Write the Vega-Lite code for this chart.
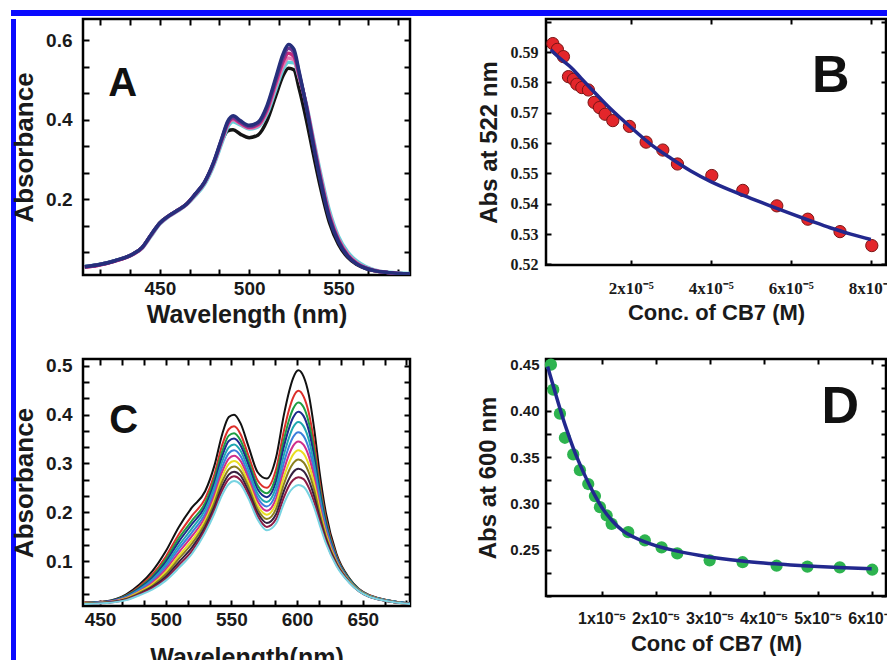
{
"$schema": "https://vega.github.io/schema/vega-lite/v6.json",
"padding": {"left": 10, "top": 10, "right": 0, "bottom": 0},
"background": "white",
"config": {
  "view": {"stroke": "#000", "strokeWidth": 2.5},
  "axis": {"domain": false, "grid": false, "labelFont": "Liberation Sans", "labelFontWeight": "bold", "labelColor": "#1a1a1a", "titleFont": "Liberation Sans", "titleFontWeight": "bold", "titleColor": "#1a1a1a", "tickColor": "#000", "tickWidth": 2}
},
"datasets": {
"a": [
{"s":"black","w":408,"a":0.030},{"s":"black","w":415,"a":0.034},{"s":"black","w":425,"a":0.045},{"s":"black","w":435,"a":0.062},{"s":"black","w":440,"a":0.078},{"s":"black","w":445,"a":0.109},{"s":"black","w":450,"a":0.140},{"s":"black","w":455,"a":0.158},{"s":"black","w":460,"a":0.172},{"s":"black","w":465,"a":0.188},{"s":"black","w":470,"a":0.213},{"s":"black","w":475,"a":0.241},{"s":"black","w":480,"a":0.288},{"s":"black","w":485,"a":0.350},{"s":"black","w":488,"a":0.372},{"s":"black","w":491,"a":0.375},{"s":"black","w":495,"a":0.364},{"s":"black","w":500,"a":0.355},{"s":"black","w":505,"a":0.362},{"s":"black","w":510,"a":0.398},{"s":"black","w":515,"a":0.462},{"s":"black","w":519,"a":0.512},{"s":"black","w":522,"a":0.530},{"s":"black","w":525,"a":0.526},{"s":"black","w":528,"a":0.478},{"s":"black","w":532,"a":0.400},{"s":"black","w":536,"a":0.312},{"s":"black","w":540,"a":0.228},{"s":"black","w":545,"a":0.140},{"s":"black","w":550,"a":0.086},{"s":"black","w":555,"a":0.054},{"s":"black","w":560,"a":0.036},{"s":"black","w":565,"a":0.026},{"s":"black","w":570,"a":0.020},{"s":"black","w":578,"a":0.015},{"s":"black","w":590,"a":0.012},
{"s":"cyan","w":408,"a":0.031},{"s":"cyan","w":415,"a":0.035},{"s":"cyan","w":425,"a":0.046},{"s":"cyan","w":435,"a":0.061},{"s":"cyan","w":440,"a":0.076},{"s":"cyan","w":445,"a":0.106},{"s":"cyan","w":450,"a":0.137},{"s":"cyan","w":455,"a":0.156},{"s":"cyan","w":460,"a":0.170},{"s":"cyan","w":465,"a":0.186},{"s":"cyan","w":470,"a":0.209},{"s":"cyan","w":475,"a":0.237},{"s":"cyan","w":480,"a":0.283},{"s":"cyan","w":485,"a":0.345},{"s":"cyan","w":488,"a":0.381},{"s":"cyan","w":491,"a":0.395},{"s":"cyan","w":495,"a":0.387},{"s":"cyan","w":500,"a":0.377},{"s":"cyan","w":505,"a":0.382},{"s":"cyan","w":510,"a":0.415},{"s":"cyan","w":515,"a":0.478},{"s":"cyan","w":519,"a":0.527},{"s":"cyan","w":522,"a":0.545},{"s":"cyan","w":525,"a":0.544},{"s":"cyan","w":528,"a":0.506},{"s":"cyan","w":532,"a":0.440},{"s":"cyan","w":536,"a":0.352},{"s":"cyan","w":540,"a":0.265},{"s":"cyan","w":545,"a":0.170},{"s":"cyan","w":550,"a":0.106},{"s":"cyan","w":555,"a":0.068},{"s":"cyan","w":560,"a":0.045},{"s":"cyan","w":565,"a":0.031},{"s":"cyan","w":570,"a":0.022},{"s":"cyan","w":578,"a":0.016},{"s":"cyan","w":590,"a":0.013},
{"s":"pink","w":408,"a":0.029},{"s":"pink","w":415,"a":0.033},{"s":"pink","w":425,"a":0.044},{"s":"pink","w":435,"a":0.061},{"s":"pink","w":440,"a":0.077},{"s":"pink","w":445,"a":0.108},{"s":"pink","w":450,"a":0.139},{"s":"pink","w":455,"a":0.157},{"s":"pink","w":460,"a":0.171},{"s":"pink","w":465,"a":0.187},{"s":"pink","w":470,"a":0.212},{"s":"pink","w":475,"a":0.241},{"s":"pink","w":480,"a":0.288},{"s":"pink","w":485,"a":0.351},{"s":"pink","w":488,"a":0.387},{"s":"pink","w":491,"a":0.400},{"s":"pink","w":495,"a":0.390},{"s":"pink","w":500,"a":0.379},{"s":"pink","w":505,"a":0.385},{"s":"pink","w":510,"a":0.421},{"s":"pink","w":515,"a":0.487},{"s":"pink","w":519,"a":0.537},{"s":"pink","w":522,"a":0.556},{"s":"pink","w":525,"a":0.551},{"s":"pink","w":528,"a":0.508},{"s":"pink","w":532,"a":0.437},{"s":"pink","w":536,"a":0.346},{"s":"pink","w":540,"a":0.257},{"s":"pink","w":545,"a":0.162},{"s":"pink","w":550,"a":0.100},{"s":"pink","w":555,"a":0.063},{"s":"pink","w":560,"a":0.041},{"s":"pink","w":565,"a":0.028},{"s":"pink","w":570,"a":0.021},{"s":"pink","w":578,"a":0.015},{"s":"pink","w":590,"a":0.012},
{"s":"magenta","w":408,"a":0.029},{"s":"magenta","w":415,"a":0.033},{"s":"magenta","w":425,"a":0.044},{"s":"magenta","w":435,"a":0.061},{"s":"magenta","w":440,"a":0.077},{"s":"magenta","w":445,"a":0.109},{"s":"magenta","w":450,"a":0.139},{"s":"magenta","w":455,"a":0.158},{"s":"magenta","w":460,"a":0.172},{"s":"magenta","w":465,"a":0.188},{"s":"magenta","w":470,"a":0.213},{"s":"magenta","w":475,"a":0.242},{"s":"magenta","w":480,"a":0.290},{"s":"magenta","w":485,"a":0.354},{"s":"magenta","w":488,"a":0.390},{"s":"magenta","w":491,"a":0.403},{"s":"magenta","w":495,"a":0.392},{"s":"magenta","w":500,"a":0.381},{"s":"magenta","w":505,"a":0.388},{"s":"magenta","w":510,"a":0.426},{"s":"magenta","w":515,"a":0.495},{"s":"magenta","w":519,"a":0.547},{"s":"magenta","w":522,"a":0.568},{"s":"magenta","w":525,"a":0.560},{"s":"magenta","w":528,"a":0.512},{"s":"magenta","w":532,"a":0.436},{"s":"magenta","w":536,"a":0.342},{"s":"magenta","w":540,"a":0.252},{"s":"magenta","w":545,"a":0.157},{"s":"magenta","w":550,"a":0.097},{"s":"magenta","w":555,"a":0.060},{"s":"magenta","w":560,"a":0.039},{"s":"magenta","w":565,"a":0.027},{"s":"magenta","w":570,"a":0.020},{"s":"magenta","w":578,"a":0.015},{"s":"magenta","w":590,"a":0.012},
{"s":"purple","w":408,"a":0.030},{"s":"purple","w":415,"a":0.034},{"s":"purple","w":425,"a":0.045},{"s":"purple","w":435,"a":0.062},{"s":"purple","w":440,"a":0.078},{"s":"purple","w":445,"a":0.110},{"s":"purple","w":450,"a":0.140},{"s":"purple","w":455,"a":0.158},{"s":"purple","w":460,"a":0.172},{"s":"purple","w":465,"a":0.188},{"s":"purple","w":470,"a":0.214},{"s":"purple","w":475,"a":0.243},{"s":"purple","w":480,"a":0.291},{"s":"purple","w":485,"a":0.356},{"s":"purple","w":488,"a":0.393},{"s":"purple","w":491,"a":0.406},{"s":"purple","w":495,"a":0.395},{"s":"purple","w":500,"a":0.383},{"s":"purple","w":505,"a":0.391},{"s":"purple","w":510,"a":0.431},{"s":"purple","w":515,"a":0.502},{"s":"purple","w":519,"a":0.557},{"s":"purple","w":522,"a":0.580},{"s":"purple","w":525,"a":0.570},{"s":"purple","w":528,"a":0.516},{"s":"purple","w":532,"a":0.434},{"s":"purple","w":536,"a":0.338},{"s":"purple","w":540,"a":0.248},{"s":"purple","w":545,"a":0.153},{"s":"purple","w":550,"a":0.094},{"s":"purple","w":555,"a":0.058},{"s":"purple","w":560,"a":0.038},{"s":"purple","w":565,"a":0.027},{"s":"purple","w":570,"a":0.020},{"s":"purple","w":578,"a":0.015},{"s":"purple","w":590,"a":0.012},
{"s":"navy","w":408,"a":0.030},{"s":"navy","w":415,"a":0.034},{"s":"navy","w":425,"a":0.045},{"s":"navy","w":435,"a":0.062},{"s":"navy","w":440,"a":0.078},{"s":"navy","w":445,"a":0.110},{"s":"navy","w":450,"a":0.140},{"s":"navy","w":455,"a":0.158},{"s":"navy","w":460,"a":0.172},{"s":"navy","w":465,"a":0.188},{"s":"navy","w":470,"a":0.214},{"s":"navy","w":475,"a":0.243},{"s":"navy","w":480,"a":0.292},{"s":"navy","w":485,"a":0.358},{"s":"navy","w":488,"a":0.396},{"s":"navy","w":491,"a":0.410},{"s":"navy","w":495,"a":0.398},{"s":"navy","w":500,"a":0.386},{"s":"navy","w":505,"a":0.394},{"s":"navy","w":510,"a":0.436},{"s":"navy","w":515,"a":0.508},{"s":"navy","w":519,"a":0.566},{"s":"navy","w":522,"a":0.590},{"s":"navy","w":525,"a":0.578},{"s":"navy","w":528,"a":0.520},{"s":"navy","w":532,"a":0.432},{"s":"navy","w":536,"a":0.334},{"s":"navy","w":540,"a":0.244},{"s":"navy","w":545,"a":0.150},{"s":"navy","w":550,"a":0.092},{"s":"navy","w":555,"a":0.057},{"s":"navy","w":560,"a":0.037},{"s":"navy","w":565,"a":0.026},{"s":"navy","w":570,"a":0.020},{"s":"navy","w":578,"a":0.015},{"s":"navy","w":590,"a":0.012}
],
"c": [
{"t":"black","w":438,"a":0.015},{"t":"black","w":455,"a":0.018},{"t":"black","w":470,"a":0.032},{"t":"black","w":480,"a":0.052},{"t":"black","w":490,"a":0.080},{"t":"black","w":500,"a":0.120},{"t":"black","w":510,"a":0.170},{"t":"black","w":520,"a":0.210},{"t":"black","w":530,"a":0.243},{"t":"black","w":537,"a":0.295},{"t":"black","w":543,"a":0.360},{"t":"black","w":548,"a":0.395},{"t":"black","w":552,"a":0.400},{"t":"black","w":557,"a":0.382},{"t":"black","w":563,"a":0.335},{"t":"black","w":570,"a":0.282},{"t":"black","w":577,"a":0.269},{"t":"black","w":584,"a":0.312},{"t":"black","w":590,"a":0.400},{"t":"black","w":594,"a":0.448},{"t":"black","w":597,"a":0.475},{"t":"black","w":601,"a":0.491},{"t":"black","w":605,"a":0.478},{"t":"black","w":609,"a":0.440},{"t":"black","w":613,"a":0.372},{"t":"black","w":617,"a":0.285},{"t":"black","w":622,"a":0.198},{"t":"black","w":630,"a":0.115},{"t":"black","w":640,"a":0.064},{"t":"black","w":655,"a":0.030},{"t":"black","w":686,"a":0.013},
{"t":"red","w":438,"a":0.015},{"t":"red","w":455,"a":0.017},{"t":"red","w":470,"a":0.030},{"t":"red","w":480,"a":0.048},{"t":"red","w":490,"a":0.073},{"t":"red","w":500,"a":0.109},{"t":"red","w":510,"a":0.155},{"t":"red","w":520,"a":0.193},{"t":"red","w":530,"a":0.228},{"t":"red","w":537,"a":0.277},{"t":"red","w":543,"a":0.338},{"t":"red","w":548,"a":0.370},{"t":"red","w":552,"a":0.376},{"t":"red","w":557,"a":0.360},{"t":"red","w":563,"a":0.316},{"t":"red","w":570,"a":0.265},{"t":"red","w":577,"a":0.250},{"t":"red","w":584,"a":0.288},{"t":"red","w":590,"a":0.367},{"t":"red","w":594,"a":0.411},{"t":"red","w":597,"a":0.435},{"t":"red","w":601,"a":0.449},{"t":"red","w":605,"a":0.437},{"t":"red","w":609,"a":0.403},{"t":"red","w":613,"a":0.343},{"t":"red","w":617,"a":0.265},{"t":"red","w":622,"a":0.187},{"t":"red","w":630,"a":0.111},{"t":"red","w":640,"a":0.062},{"t":"red","w":655,"a":0.030},{"t":"red","w":686,"a":0.013},
{"t":"green","w":438,"a":0.014},{"t":"green","w":455,"a":0.017},{"t":"green","w":470,"a":0.029},{"t":"green","w":480,"a":0.046},{"t":"green","w":490,"a":0.069},{"t":"green","w":500,"a":0.103},{"t":"green","w":510,"a":0.147},{"t":"green","w":520,"a":0.183},{"t":"green","w":530,"a":0.219},{"t":"green","w":537,"a":0.268},{"t":"green","w":543,"a":0.325},{"t":"green","w":548,"a":0.357},{"t":"green","w":552,"a":0.362},{"t":"green","w":557,"a":0.347},{"t":"green","w":563,"a":0.305},{"t":"green","w":570,"a":0.255},{"t":"green","w":577,"a":0.239},{"t":"green","w":584,"a":0.274},{"t":"green","w":590,"a":0.349},{"t":"green","w":594,"a":0.390},{"t":"green","w":597,"a":0.412},{"t":"green","w":601,"a":0.425},{"t":"green","w":605,"a":0.415},{"t":"green","w":609,"a":0.383},{"t":"green","w":613,"a":0.327},{"t":"green","w":617,"a":0.255},{"t":"green","w":622,"a":0.181},{"t":"green","w":630,"a":0.108},{"t":"green","w":640,"a":0.062},{"t":"green","w":655,"a":0.029},{"t":"green","w":686,"a":0.013},
{"t":"navy","w":438,"a":0.014},{"t":"navy","w":455,"a":0.017},{"t":"navy","w":470,"a":0.028},{"t":"navy","w":480,"a":0.044},{"t":"navy","w":490,"a":0.066},{"t":"navy","w":500,"a":0.098},{"t":"navy","w":510,"a":0.140},{"t":"navy","w":520,"a":0.176},{"t":"navy","w":530,"a":0.212},{"t":"navy","w":537,"a":0.260},{"t":"navy","w":543,"a":0.315},{"t":"navy","w":548,"a":0.346},{"t":"navy","w":552,"a":0.351},{"t":"navy","w":557,"a":0.337},{"t":"navy","w":563,"a":0.297},{"t":"navy","w":570,"a":0.247},{"t":"navy","w":577,"a":0.231},{"t":"navy","w":584,"a":0.263},{"t":"navy","w":590,"a":0.335},{"t":"navy","w":594,"a":0.373},{"t":"navy","w":597,"a":0.394},{"t":"navy","w":601,"a":0.406},{"t":"navy","w":605,"a":0.397},{"t":"navy","w":609,"a":0.367},{"t":"navy","w":613,"a":0.314},{"t":"navy","w":617,"a":0.246},{"t":"navy","w":622,"a":0.176},{"t":"navy","w":630,"a":0.106},{"t":"navy","w":640,"a":0.061},{"t":"navy","w":655,"a":0.029},{"t":"navy","w":686,"a":0.013},
{"t":"teal","w":438,"a":0.014},{"t":"teal","w":455,"a":0.016},{"t":"teal","w":470,"a":0.027},{"t":"teal","w":480,"a":0.042},{"t":"teal","w":490,"a":0.063},{"t":"teal","w":500,"a":0.093},{"t":"teal","w":510,"a":0.132},{"t":"teal","w":520,"a":0.167},{"t":"teal","w":530,"a":0.205},{"t":"teal","w":537,"a":0.251},{"t":"teal","w":543,"a":0.304},{"t":"teal","w":548,"a":0.333},{"t":"teal","w":552,"a":0.339},{"t":"teal","w":557,"a":0.326},{"t":"teal","w":563,"a":0.287},{"t":"teal","w":570,"a":0.238},{"t":"teal","w":577,"a":0.221},{"t":"teal","w":584,"a":0.251},{"t":"teal","w":590,"a":0.318},{"t":"teal","w":594,"a":0.354},{"t":"teal","w":597,"a":0.374},{"t":"teal","w":601,"a":0.385},{"t":"teal","w":605,"a":0.376},{"t":"teal","w":609,"a":0.348},{"t":"teal","w":613,"a":0.299},{"t":"teal","w":617,"a":0.236},{"t":"teal","w":622,"a":0.170},{"t":"teal","w":630,"a":0.104},{"t":"teal","w":640,"a":0.060},{"t":"teal","w":655,"a":0.029},{"t":"teal","w":686,"a":0.013},
{"t":"blue","w":438,"a":0.013},{"t":"blue","w":455,"a":0.016},{"t":"blue","w":470,"a":0.026},{"t":"blue","w":480,"a":0.040},{"t":"blue","w":490,"a":0.060},{"t":"blue","w":500,"a":0.088},{"t":"blue","w":510,"a":0.125},{"t":"blue","w":520,"a":0.159},{"t":"blue","w":530,"a":0.197},{"t":"blue","w":537,"a":0.242},{"t":"blue","w":543,"a":0.293},{"t":"blue","w":548,"a":0.321},{"t":"blue","w":552,"a":0.327},{"t":"blue","w":557,"a":0.315},{"t":"blue","w":563,"a":0.277},{"t":"blue","w":570,"a":0.230},{"t":"blue","w":577,"a":0.212},{"t":"blue","w":584,"a":0.239},{"t":"blue","w":590,"a":0.302},{"t":"blue","w":594,"a":0.336},{"t":"blue","w":597,"a":0.354},{"t":"blue","w":601,"a":0.364},{"t":"blue","w":605,"a":0.356},{"t":"blue","w":609,"a":0.330},{"t":"blue","w":613,"a":0.285},{"t":"blue","w":617,"a":0.226},{"t":"blue","w":622,"a":0.165},{"t":"blue","w":630,"a":0.102},{"t":"blue","w":640,"a":0.059},{"t":"blue","w":655,"a":0.028},{"t":"blue","w":686,"a":0.013},
{"t":"magenta","w":438,"a":0.013},{"t":"magenta","w":455,"a":0.016},{"t":"magenta","w":470,"a":0.025},{"t":"magenta","w":480,"a":0.038},{"t":"magenta","w":490,"a":0.056},{"t":"magenta","w":500,"a":0.083},{"t":"magenta","w":510,"a":0.118},{"t":"magenta","w":520,"a":0.151},{"t":"magenta","w":530,"a":0.190},{"t":"magenta","w":537,"a":0.234},{"t":"magenta","w":543,"a":0.283},{"t":"magenta","w":548,"a":0.310},{"t":"magenta","w":552,"a":0.316},{"t":"magenta","w":557,"a":0.305},{"t":"magenta","w":563,"a":0.269},{"t":"magenta","w":570,"a":0.222},{"t":"magenta","w":577,"a":0.203},{"t":"magenta","w":584,"a":0.228},{"t":"magenta","w":590,"a":0.287},{"t":"magenta","w":594,"a":0.319},{"t":"magenta","w":597,"a":0.336},{"t":"magenta","w":601,"a":0.345},{"t":"magenta","w":605,"a":0.338},{"t":"magenta","w":609,"a":0.314},{"t":"magenta","w":613,"a":0.272},{"t":"magenta","w":617,"a":0.217},{"t":"magenta","w":622,"a":0.160},{"t":"magenta","w":630,"a":0.100},{"t":"magenta","w":640,"a":0.058},{"t":"magenta","w":655,"a":0.028},{"t":"magenta","w":686,"a":0.012},
{"t":"yellow","w":438,"a":0.013},{"t":"yellow","w":455,"a":0.015},{"t":"yellow","w":470,"a":0.024},{"t":"yellow","w":480,"a":0.037},{"t":"yellow","w":490,"a":0.053},{"t":"yellow","w":500,"a":0.078},{"t":"yellow","w":510,"a":0.111},{"t":"yellow","w":520,"a":0.143},{"t":"yellow","w":530,"a":0.183},{"t":"yellow","w":537,"a":0.226},{"t":"yellow","w":543,"a":0.273},{"t":"yellow","w":548,"a":0.299},{"t":"yellow","w":552,"a":0.305},{"t":"yellow","w":557,"a":0.295},{"t":"yellow","w":563,"a":0.260},{"t":"yellow","w":570,"a":0.214},{"t":"yellow","w":577,"a":0.195},{"t":"yellow","w":584,"a":0.218},{"t":"yellow","w":590,"a":0.273},{"t":"yellow","w":594,"a":0.302},{"t":"yellow","w":597,"a":0.318},{"t":"yellow","w":601,"a":0.327},{"t":"yellow","w":605,"a":0.320},{"t":"yellow","w":609,"a":0.297},{"t":"yellow","w":613,"a":0.259},{"t":"yellow","w":617,"a":0.209},{"t":"yellow","w":622,"a":0.155},{"t":"yellow","w":630,"a":0.098},{"t":"yellow","w":640,"a":0.058},{"t":"yellow","w":655,"a":0.028},{"t":"yellow","w":686,"a":0.012},
{"t":"olive","w":438,"a":0.013},{"t":"olive","w":455,"a":0.015},{"t":"olive","w":470,"a":0.023},{"t":"olive","w":480,"a":0.035},{"t":"olive","w":490,"a":0.050},{"t":"olive","w":500,"a":0.073},{"t":"olive","w":510,"a":0.105},{"t":"olive","w":520,"a":0.136},{"t":"olive","w":530,"a":0.177},{"t":"olive","w":537,"a":0.219},{"t":"olive","w":543,"a":0.263},{"t":"olive","w":548,"a":0.288},{"t":"olive","w":552,"a":0.294},{"t":"olive","w":557,"a":0.285},{"t":"olive","w":563,"a":0.252},{"t":"olive","w":570,"a":0.206},{"t":"olive","w":577,"a":0.186},{"t":"olive","w":584,"a":0.207},{"t":"olive","w":590,"a":0.258},{"t":"olive","w":594,"a":0.286},{"t":"olive","w":597,"a":0.300},{"t":"olive","w":601,"a":0.308},{"t":"olive","w":605,"a":0.302},{"t":"olive","w":609,"a":0.281},{"t":"olive","w":613,"a":0.246},{"t":"olive","w":617,"a":0.200},{"t":"olive","w":622,"a":0.150},{"t":"olive","w":630,"a":0.096},{"t":"olive","w":640,"a":0.057},{"t":"olive","w":655,"a":0.028},{"t":"olive","w":686,"a":0.012},
{"t":"dark","w":438,"a":0.012},{"t":"dark","w":455,"a":0.015},{"t":"dark","w":470,"a":0.022},{"t":"dark","w":480,"a":0.033},{"t":"dark","w":490,"a":0.047},{"t":"dark","w":500,"a":0.068},{"t":"dark","w":510,"a":0.098},{"t":"dark","w":520,"a":0.128},{"t":"dark","w":530,"a":0.170},{"t":"dark","w":537,"a":0.211},{"t":"dark","w":543,"a":0.253},{"t":"dark","w":548,"a":0.277},{"t":"dark","w":552,"a":0.283},{"t":"dark","w":557,"a":0.275},{"t":"dark","w":563,"a":0.243},{"t":"dark","w":570,"a":0.199},{"t":"dark","w":577,"a":0.178},{"t":"dark","w":584,"a":0.196},{"t":"dark","w":590,"a":0.244},{"t":"dark","w":594,"a":0.269},{"t":"dark","w":597,"a":0.282},{"t":"dark","w":601,"a":0.289},{"t":"dark","w":605,"a":0.284},{"t":"dark","w":609,"a":0.265},{"t":"dark","w":613,"a":0.233},{"t":"dark","w":617,"a":0.191},{"t":"dark","w":622,"a":0.145},{"t":"dark","w":630,"a":0.094},{"t":"dark","w":640,"a":0.056},{"t":"dark","w":655,"a":0.027},{"t":"dark","w":686,"a":0.012},
{"t":"maroon","w":438,"a":0.012},{"t":"maroon","w":455,"a":0.014},{"t":"maroon","w":470,"a":0.021},{"t":"maroon","w":480,"a":0.032},{"t":"maroon","w":490,"a":0.045},{"t":"maroon","w":500,"a":0.064},{"t":"maroon","w":510,"a":0.092},{"t":"maroon","w":520,"a":0.121},{"t":"maroon","w":530,"a":0.164},{"t":"maroon","w":537,"a":0.204},{"t":"maroon","w":543,"a":0.245},{"t":"maroon","w":548,"a":0.268},{"t":"maroon","w":552,"a":0.274},{"t":"maroon","w":557,"a":0.266},{"t":"maroon","w":563,"a":0.236},{"t":"maroon","w":570,"a":0.192},{"t":"maroon","w":577,"a":0.170},{"t":"maroon","w":584,"a":0.186},{"t":"maroon","w":590,"a":0.231},{"t":"maroon","w":594,"a":0.255},{"t":"maroon","w":597,"a":0.266},{"t":"maroon","w":601,"a":0.272},{"t":"maroon","w":605,"a":0.268},{"t":"maroon","w":609,"a":0.250},{"t":"maroon","w":613,"a":0.221},{"t":"maroon","w":617,"a":0.184},{"t":"maroon","w":622,"a":0.140},{"t":"maroon","w":630,"a":0.092},{"t":"maroon","w":640,"a":0.056},{"t":"maroon","w":655,"a":0.027},{"t":"maroon","w":686,"a":0.012},
{"t":"cyan","w":438,"a":0.012},{"t":"cyan","w":455,"a":0.014},{"t":"cyan","w":470,"a":0.020},{"t":"cyan","w":480,"a":0.030},{"t":"cyan","w":490,"a":0.042},{"t":"cyan","w":500,"a":0.060},{"t":"cyan","w":510,"a":0.086},{"t":"cyan","w":520,"a":0.115},{"t":"cyan","w":530,"a":0.158},{"t":"cyan","w":537,"a":0.197},{"t":"cyan","w":543,"a":0.236},{"t":"cyan","w":548,"a":0.258},{"t":"cyan","w":552,"a":0.264},{"t":"cyan","w":557,"a":0.257},{"t":"cyan","w":563,"a":0.228},{"t":"cyan","w":570,"a":0.185},{"t":"cyan","w":577,"a":0.163},{"t":"cyan","w":584,"a":0.177},{"t":"cyan","w":590,"a":0.218},{"t":"cyan","w":594,"a":0.240},{"t":"cyan","w":597,"a":0.250},{"t":"cyan","w":601,"a":0.256},{"t":"cyan","w":605,"a":0.252},{"t":"cyan","w":609,"a":0.236},{"t":"cyan","w":613,"a":0.210},{"t":"cyan","w":617,"a":0.176},{"t":"cyan","w":622,"a":0.136},{"t":"cyan","w":630,"a":0.090},{"t":"cyan","w":640,"a":0.055},{"t":"cyan","w":655,"a":0.027},{"t":"cyan","w":686,"a":0.012}
],
"bpts": [
{"c":5e-7,"v":0.5928},{"c":1.65e-6,"v":0.5909},{"c":3.16e-6,"v":0.5885},{"c":4.41e-6,"v":0.5819},{"c":5.66e-6,"v":0.5810},{"c":6.5e-6,"v":0.5794},{"c":7.75e-6,"v":0.5783},{"c":9.4e-6,"v":0.5775},{"c":1.083e-5,"v":0.5734},{"c":1.216e-5,"v":0.5717},{"c":1.358e-5,"v":0.5695},{"c":1.55e-5,"v":0.5674},{"c":1.966e-5,"v":0.5655},{"c":2.383e-5,"v":0.5603},{"c":2.8e-5,"v":0.5577},{"c":3.166e-5,"v":0.5531},{"c":4.025e-5,"v":0.5493},{"c":4.8e-5,"v":0.5444},{"c":5.65e-5,"v":0.5393},{"c":6.425e-5,"v":0.5349},{"c":7.23e-5,"v":0.5308},{"c":8.025e-5,"v":0.5262}
],
"bfit": [
{"c":0,"v":0.5908},{"c":2.5e-6,"v":0.5877},{"c":5e-6,"v":0.5850},{"c":7.5e-6,"v":0.5815},{"c":1e-5,"v":0.5780},{"c":1.5e-5,"v":0.5712},{"c":2e-5,"v":0.5652},{"c":2.5e-5,"v":0.5596},{"c":3e-5,"v":0.5550},{"c":3.5e-5,"v":0.5508},{"c":4e-5,"v":0.5473},{"c":4.5e-5,"v":0.5444},{"c":5e-5,"v":0.5418},{"c":5.5e-5,"v":0.5392},{"c":6e-5,"v":0.5367},{"c":6.5e-5,"v":0.5343},{"c":7e-5,"v":0.5320},{"c":7.5e-5,"v":0.5300},{"c":8e-5,"v":0.5282}
],
"dpts": [
{"c":6.1e-7,"v":0.450},{"c":1.04e-6,"v":0.423},{"c":2.28e-6,"v":0.397},{"c":3.2e-6,"v":0.371},{"c":4.74e-6,"v":0.353},{"c":5.98e-6,"v":0.336},{"c":7.52e-6,"v":0.321},{"c":8.76e-6,"v":0.308},{"c":9.69e-6,"v":0.296},{"c":1.093e-5,"v":0.287},{"c":1.185e-5,"v":0.278},{"c":1.493e-5,"v":0.269},{"c":1.8e-5,"v":0.260},{"c":2.11e-5,"v":0.2525},{"c":2.4e-5,"v":0.246},{"c":3e-5,"v":0.2385},{"c":3.61e-5,"v":0.2365},{"c":4.24e-5,"v":0.2327},{"c":4.81e-5,"v":0.2317},{"c":5.41e-5,"v":0.2309},{"c":6.01e-5,"v":0.2284}
],
"dfit": [
{"c":0,"v":0.448},{"c":1e-6,"v":0.428},{"c":2e-6,"v":0.408},{"c":3e-6,"v":0.389},{"c":4e-6,"v":0.372},{"c":5e-6,"v":0.356},{"c":6e-6,"v":0.342},{"c":7e-6,"v":0.329},{"c":8e-6,"v":0.317},{"c":9e-6,"v":0.306},{"c":1e-5,"v":0.296},{"c":1.2e-5,"v":0.281},{"c":1.4e-5,"v":0.270},{"c":1.6e-5,"v":0.2635},{"c":1.8e-5,"v":0.2585},{"c":2e-5,"v":0.2545},{"c":2.4e-5,"v":0.2485},{"c":2.8e-5,"v":0.244},{"c":3.2e-5,"v":0.2405},{"c":3.6e-5,"v":0.2378},{"c":4e-5,"v":0.2357},{"c":4.5e-5,"v":0.2336},{"c":5e-5,"v":0.2318},{"c":5.5e-5,"v":0.2305},{"c":6e-5,"v":0.2295}
]
},
"spacing": 0,
"vconcat": [
  {"width": 877, "height": 6, "view": {"fill": "#0a0aff", "stroke": "#0a0aff", "strokeWidth": 0}, "data": {"values": [{}]}, "mark": {"type": "point", "opacity": 0}, "encoding": {}},
  {"spacing": -7, "hconcat": [
    {"width": 5, "height": 650, "view": {"fill": "#0a0aff", "stroke": "#0a0aff", "strokeWidth": 0}, "data": {"values": [{}]}, "mark": {"type": "point", "opacity": 0}, "encoding": {}},
    {"columns": 2, "bounds": "flush", "align": "each", "spacing": {"row": 84, "column": 136},
     "resolve": {"scale": {"color": "independent"}},
     "concat": [
      {"width": 327, "height": 256,
       "layer": [
         {"data": {"name": "a"}, "mark": {"type": "line", "strokeWidth": 3.5, "interpolate": "monotone", "clip": true},
          "encoding": {
            "x": {"field": "w", "type": "quantitative", "scale": {"domain": [407, 590], "nice": false, "zero": false},
                  "axis": {"orient": "bottom", "values": [416.667, 433.333, 450, 466.667, 483.333, 500, 516.667, 533.333, 550, 566.667, 583.333], "labelExpr": "datum.value % 50 === 0 ? datum.label : ''", "tickSize": -6, "labelPadding": 10, "labelFontSize": 19, "title": "Wavelength (nm)", "titleFontSize": 25, "titlePadding": 4}},
            "y": {"field": "a", "type": "quantitative", "scale": {"domain": [0.009, 0.654], "nice": false, "zero": false},
                  "axis": {"orient": "left", "values": [0.0667, 0.1333, 0.2, 0.2667, 0.3333, 0.4, 0.4667, 0.5333, 0.6], "labelExpr": "abs(datum.value*5 - round(datum.value*5)) < 0.001 ? format(datum.value, '.1f') : ''", "tickSize": -6, "labelPadding": 17, "labelFontSize": 19, "title": "Absorbance", "titleFontSize": 26, "titlePadding": 8}},
            "color": {"field": "s", "type": "nominal", "sort": null, "scale": {"domain": ["black", "cyan", "pink", "magenta", "purple", "navy"], "range": ["#141414", "#63cfd9", "#e37ab4", "#c42a7c", "#6b3590", "#262f7c"]}, "legend": null}
          }},
         {"data": {"name": "a"}, "mark": {"type": "point", "opacity": 0},
          "encoding": {
            "x": {"field": "w", "type": "quantitative", "axis": {"orient": "top", "values": [416.667, 433.333, 450, 466.667, 483.333, 500, 516.667, 533.333, 550, 566.667, 583.333], "labels": false, "title": null, "tickSize": -6}},
            "y": {"field": "a", "type": "quantitative", "axis": {"orient": "right", "values": [0.0667, 0.1333, 0.2, 0.2667, 0.3333, 0.4, 0.4667, 0.5333, 0.6], "labels": false, "title": null, "tickSize": -6}}
          }},
         {"data": {"values": [{}]}, "mark": {"type": "text", "text": "A", "font": "Liberation Sans", "fontWeight": "bold", "fontSize": 40, "align": "center", "baseline": "alphabetic", "color": "#111"},
          "encoding": {"x": {"datum": 429.2, "axis": null}, "y": {"datum": 0.46, "axis": null}}}
       ],
       "resolve": {"axis": {"x": "independent", "y": "independent"}}
      },
      {"width": 340, "height": 246,
       "layer": [
         {"data": {"name": "bpts"}, "mark": {"type": "point", "filled": true, "size": 150, "color": "#e3262b", "stroke": "#7a1515", "strokeWidth": 1, "opacity": 1},
          "encoding": {
            "x": {"field": "c", "type": "quantitative", "scale": {"domain": [-1.2e-6, 8.38e-5], "nice": false, "zero": false},
                  "axis": {"orient": "bottom", "values": [2e-5, 4e-5, 6e-5, 8e-5], "labelExpr": "round(datum.value*1e5) + 'x10⁻⁵'", "labelFont": "Liberation Serif", "labelFontSize": 17, "tickSize": -5, "labelPadding": 20, "title": "Conc. of CB7  (M)", "titleFontSize": 22, "titlePadding": 6}},
            "y": {"field": "v", "type": "quantitative", "scale": {"domain": [0.5198, 0.6009], "nice": false, "zero": false},
                  "axis": {"orient": "left", "values": [0.52, 0.53, 0.54, 0.55, 0.56, 0.57, 0.58, 0.59, 0.6], "labelExpr": "datum.value < 0.5995 ? format(datum.value, '.2f') : ''", "labelFont": "Liberation Serif", "labelFontSize": 16, "tickSize": -5, "labelPadding": 13, "title": "Abs at 522 nm", "titleFontSize": 24, "titlePadding": 9}}
          }},
         {"data": {"name": "bfit"}, "mark": {"type": "line", "strokeWidth": 3.5, "color": "#22288e", "interpolate": "monotone"},
          "encoding": {"x": {"field": "c", "type": "quantitative", "axis": null}, "y": {"field": "v", "type": "quantitative", "axis": null}}},
         {"data": {"name": "bfit"}, "mark": {"type": "point", "opacity": 0},
          "encoding": {
            "x": {"field": "c", "type": "quantitative", "axis": {"orient": "top", "values": [2e-5, 4e-5, 6e-5, 8e-5], "labels": false, "title": null, "tickSize": -5}},
            "y": {"field": "v", "type": "quantitative", "axis": {"orient": "right", "values": [0.52, 0.53, 0.54, 0.55, 0.56, 0.57, 0.58, 0.59, 0.6], "labels": false, "title": null, "tickSize": -5}}
          }},
         {"data": {"values": [{}]}, "mark": {"type": "text", "text": "B", "font": "Liberation Sans", "fontWeight": "bold", "fontSize": 52, "align": "center", "baseline": "alphabetic", "color": "#111"},
          "encoding": {"x": {"datum": 7.0e-5, "axis": null}, "y": {"datum": 0.5767, "axis": null}}}
       ],
       "resolve": {"axis": {"x": "independent", "y": "independent"}}
      },
      {"width": 327, "height": 247,
       "layer": [
         {"data": {"name": "c"}, "mark": {"type": "line", "strokeWidth": 2, "interpolate": "monotone", "clip": true},
          "encoding": {
            "x": {"field": "w", "type": "quantitative", "scale": {"domain": [437, 686], "nice": false, "zero": false},
                  "axis": {"orient": "bottom", "values": [450, 466.667, 483.333, 500, 516.667, 533.333, 550, 566.667, 583.333, 600, 616.667, 633.333, 650, 666.667, 683.333], "labelExpr": "datum.value % 50 === 0 ? datum.label : ''", "tickSize": -6, "labelPadding": 10, "labelFontSize": 19, "title": "Wavelength(nm)", "titleFontSize": 25, "titlePadding": 16}},
            "y": {"field": "a", "type": "quantitative", "scale": {"domain": [0.008, 0.514], "nice": false, "zero": false},
                  "axis": {"orient": "left", "values": [0.0333, 0.0667, 0.1, 0.1333, 0.1667, 0.2, 0.2333, 0.2667, 0.3, 0.3333, 0.3667, 0.4, 0.4333, 0.4667, 0.5], "labelExpr": "abs(datum.value*10 - round(datum.value*10)) < 0.001 ? format(datum.value, '.1f') : ''", "tickSize": -6, "labelPadding": 17, "labelFontSize": 19, "title": "Absorbance", "titleFontSize": 26, "titlePadding": 8}},
            "color": {"field": "t", "type": "nominal", "sort": null, "scale": {"domain": ["black", "red", "green", "navy", "teal", "blue", "magenta", "yellow", "olive", "dark", "maroon", "cyan"], "range": ["#111111", "#dd2f2a", "#1f9e42", "#1c2a8c", "#1fa8b0", "#3c7fdc", "#d02e8c", "#e9de22", "#8a7f1e", "#35203f", "#8c1c45", "#78d4e2"]}, "legend": null}
          }},
         {"data": {"name": "c"}, "mark": {"type": "point", "opacity": 0},
          "encoding": {
            "x": {"field": "w", "type": "quantitative", "axis": {"orient": "top", "values": [450, 466.667, 483.333, 500, 516.667, 533.333, 550, 566.667, 583.333, 600, 616.667, 633.333, 650, 666.667, 683.333], "labels": false, "title": null, "tickSize": -6}},
            "y": {"field": "a", "type": "quantitative", "axis": {"orient": "right", "values": [0.0333, 0.0667, 0.1, 0.1333, 0.1667, 0.2, 0.2333, 0.2667, 0.3, 0.3333, 0.3667, 0.4, 0.4333, 0.4667, 0.5], "labels": false, "title": null, "tickSize": -6}}
          }},
         {"data": {"values": [{}]}, "mark": {"type": "text", "text": "C", "font": "Liberation Sans", "fontWeight": "bold", "fontSize": 40, "align": "center", "baseline": "alphabetic", "color": "#111"},
          "encoding": {"x": {"datum": 467.9, "axis": null}, "y": {"datum": 0.3626, "axis": null}}}
       ],
       "resolve": {"axis": {"x": "independent", "y": "independent"}}
      },
      {"width": 340, "height": 237,
       "layer": [
         {"data": {"name": "dpts"}, "mark": {"type": "point", "filled": true, "size": 150, "color": "#2db34f", "opacity": 1},
          "encoding": {
            "x": {"field": "c", "type": "quantitative", "scale": {"domain": [-3e-7, 6.265e-5], "nice": false, "zero": false},
                  "axis": {"orient": "bottom", "values": [1e-5, 2e-5, 3e-5, 4e-5, 5e-5, 6e-5], "labelExpr": "round(datum.value*1e5) + 'x10⁻⁵'", "labelFontSize": 16, "tickSize": -5, "labelPadding": 19, "title": "Conc of CB7 (M)", "titleFontSize": 22, "titlePadding": 7}},
            "y": {"field": "v", "type": "quantitative", "scale": {"domain": [0.2, 0.4561], "nice": false, "zero": false},
                  "axis": {"orient": "left", "values": [0.2, 0.225, 0.25, 0.275, 0.3, 0.325, 0.35, 0.375, 0.4, 0.425, 0.45], "labelExpr": "datum.value > 0.21 && abs(datum.value*20 - round(datum.value*20)) < 0.001 ? format(datum.value, '.2f') : ''", "labelFontSize": 15, "tickSize": -5, "labelPadding": 12, "title": "Abs at 600 nm", "titleFontSize": 24, "titlePadding": 9}}
          }},
         {"data": {"name": "dfit"}, "mark": {"type": "line", "strokeWidth": 3.5, "color": "#22288e", "interpolate": "monotone"},
          "encoding": {"x": {"field": "c", "type": "quantitative", "axis": null}, "y": {"field": "v", "type": "quantitative", "axis": null}}},
         {"data": {"name": "dfit"}, "mark": {"type": "point", "opacity": 0},
          "encoding": {
            "x": {"field": "c", "type": "quantitative", "axis": {"orient": "top", "values": [1e-5, 2e-5, 3e-5, 4e-5, 5e-5, 6e-5], "labels": false, "title": null, "tickSize": -5}},
            "y": {"field": "v", "type": "quantitative", "axis": {"orient": "right", "values": [0.2, 0.225, 0.25, 0.275, 0.3, 0.325, 0.35, 0.375, 0.4, 0.425, 0.45], "labels": false, "title": null, "tickSize": -5}}
          }},
         {"data": {"values": [{}]}, "mark": {"type": "text", "text": "D", "font": "Liberation Sans", "fontWeight": "bold", "fontSize": 52, "align": "center", "baseline": "alphabetic", "color": "#111"},
          "encoding": {"x": {"datum": 5.42e-5, "axis": null}, "y": {"datum": 0.3872, "axis": null}}}
       ],
       "resolve": {"axis": {"x": "independent", "y": "independent"}}
      }
    ]}
  ]}
]
}
